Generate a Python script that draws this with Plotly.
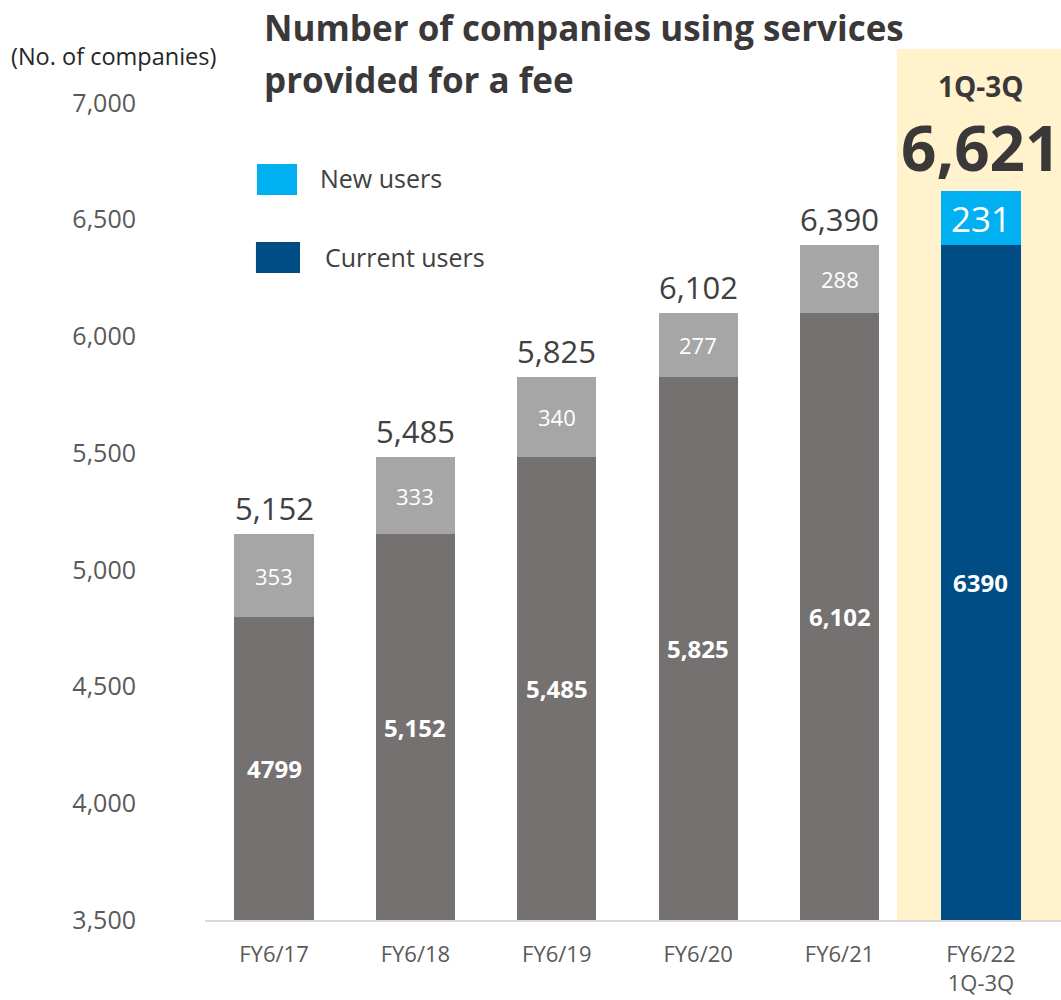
import plotly.graph_objects as go

# Fiscal periods and user counts
periods = ["FY6/17", "FY6/18", "FY6/19", "FY6/20", "FY6/21", "FY6/22<br>1Q-3Q"]
current_users = [4799, 5152, 5485, 5825, 6102, 6390]
new_users = [353, 333, 340, 277, 288, 231]
current_labels = ["4799", "5,152", "5,485", "5,825", "6,102", "6390"]
y_ticks = [3500, 4000, 4500, 5000, 5500, 6000, 6500, 7000]

Y_MIN, Y_MAX = 3500, 7000
xpos = list(range(len(periods)))
totals = [c + n for c, n in zip(current_users, new_users)]

# past years in grey, the current period in blue
cur_colors = ["#757170"] * 5 + ["#004C84"]
new_colors = ["#A6A6A6"] * 5 + ["#00B0F0"]

fig = go.Figure()
fig.add_trace(go.Bar(x=xpos, y=current_users, marker=dict(color=cur_colors, line_width=0),
                     width=0.56, showlegend=False, hoverinfo="skip"))
fig.add_trace(go.Bar(x=xpos, y=new_users, marker=dict(color=new_colors, line_width=0),
                     width=0.56, showlegend=False, hoverinfo="skip"))

ann = []
FONT = "Open Sans"
DARK = "#3A3838"
for i in xpos:
    c, n, t = current_users[i], new_users[i], totals[i]
    last = i == len(xpos) - 1
    # lower segment label centred in the visible part of the bar
    ann.append(dict(x=i, y=(Y_MIN + c) / 2, text=f"<b>{current_labels[i]}</b>", showarrow=False,
                    font=dict(family=FONT, size=24, color="white")))
    # upper segment label
    ann.append(dict(x=i, y=(c + t) / 2, text=str(n), showarrow=False,
                    font=dict(family=FONT, size=35 if last else 22, color="white")))
    if not last:
        ann.append(dict(x=i, y=t, yshift=26, text=f"{t:,}", showarrow=False,
                        font=dict(family=FONT, size=31, color="#404040")))

# highlighted total for the current period
ann.append(dict(x=5, y=1.0208, yref="paper", yanchor="middle", text="<b>1Q-3Q</b>", showarrow=False,
                font=dict(family=FONT, size=28, color=DARK)))
ann.append(dict(x=5, y=0.9461, yref="paper", yanchor="middle", text=f"<b>{totals[-1]:,}</b>",
                showarrow=False, font=dict(family=FONT, size=62, color=DARK)))

# title, two lines
ann.append(dict(x=0.0666, y=1.0918, xref="paper", yref="paper", xanchor="left", yanchor="middle",
                text="<b>Number of companies using services</b>", showarrow=False,
                font=dict(family=FONT, size=35, color=DARK)))
ann.append(dict(x=0.0666, y=1.0282, xref="paper", yref="paper", xanchor="left", yanchor="middle",
                text="<b>provided for a fee</b>", showarrow=False,
                font=dict(family=FONT, size=35, color=DARK)))
# unit
ann.append(dict(x=-0.2290, y=1.0575, xref="paper", yref="paper", xanchor="left", yanchor="middle",
                text="(No. of companies)", showarrow=False,
                font=dict(family=FONT, size=23.5, color="#262626")))

# legend
ann.append(dict(x=0.1318, y=0.9076, xref="paper", yref="paper", xanchor="left", yanchor="middle",
                text="New users", showarrow=False, font=dict(family=FONT, size=25, color="#404040")))
ann.append(dict(x=0.1378, y=0.8109, xref="paper", yref="paper", xanchor="left", yanchor="middle",
                text="Current users", showarrow=False, font=dict(family=FONT, size=25, color="#404040")))

shapes = [
    # highlight band behind the current period
    dict(type="rect", xref="x", yref="paper", x0=4.405, x1=5.7, y0=0, y1=1.066,
         fillcolor="#FFF2CC", line_width=0, layer="below"),
    # legend swatches
    dict(type="rect", xref="paper", yref="paper", x0=0.0607, x1=0.1075, y0=0.8874, y1=0.9253,
         fillcolor="#00B0F0", line_width=0),
    dict(type="rect", xref="paper", yref="paper", x0=0.0595, x1=0.1110, y0=0.7919, y1=0.8298,
         fillcolor="#004C84", line_width=0),
]

fig.update_layout(
    barmode="stack",
    width=1061, height=1000,
    margin=dict(l=205, r=0, t=103, b=80),
    paper_bgcolor="white", plot_bgcolor="rgba(0,0,0,0)",
    annotations=ann, shapes=shapes,
    font=dict(family=FONT),
    showlegend=False,
)
fig.update_xaxes(range=[-0.488, 5.566], tickmode="array", tickvals=xpos, ticktext=periods,
                 showgrid=False, zeroline=False, showline=True, linecolor="#D9D9D9", linewidth=2,
                 ticks="", ticklabelstandoff=14, tickfont=dict(family=FONT, size=22, color="#595959"))
fig.update_yaxes(range=[Y_MIN, Y_MAX], tickmode="array", tickvals=y_ticks,
                 ticktext=[f"{v:,}" for v in y_ticks], showgrid=False, zeroline=False, showline=False,
                 ticks="", ticklabelstandoff=68, tickfont=dict(family=FONT, size=25, color="#595959"))

fig.write_html("out.html")
